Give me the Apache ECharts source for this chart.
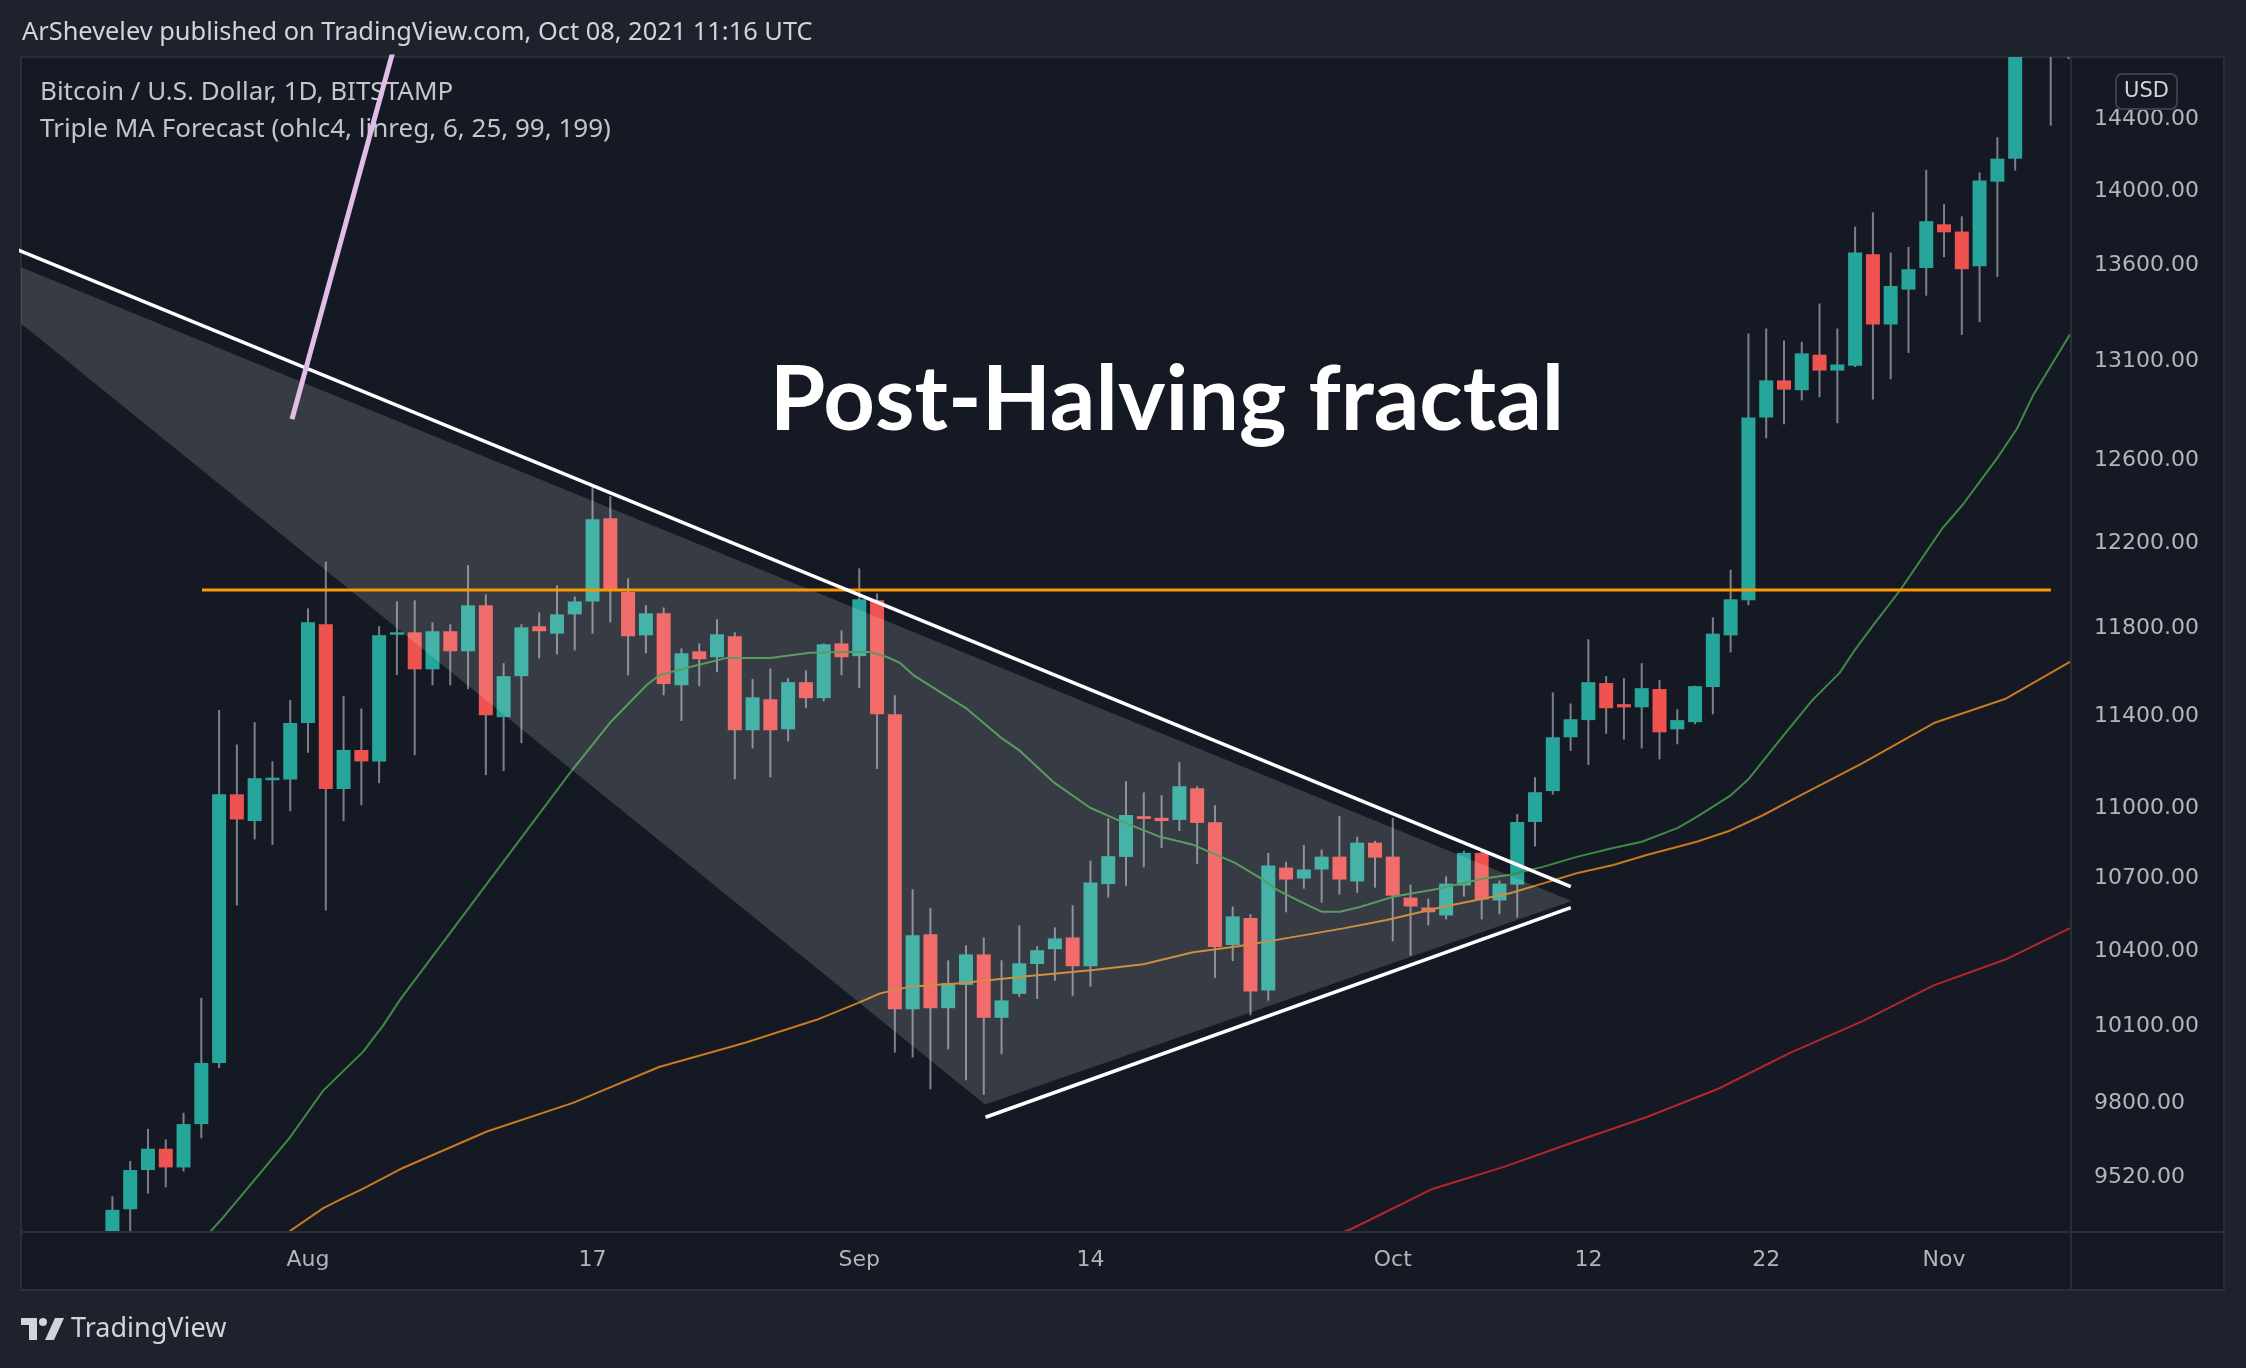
<!DOCTYPE html>
<html><head><meta charset="utf-8">
<script src="https://cdn.jsdelivr.net/npm/echarts@6/dist/echarts.min.js"></script>
<style>html,body{margin:0;padding:0;background:#1e222d}#c{width:2246px;height:1368px}</style>
</head><body><div id="c"></div>
<script>
// ---- daily candles (BTC/USD, BITSTAMP, 1D) ----
const dates = [
'2020-07-21','2020-07-22','2020-07-23','2020-07-24','2020-07-25','2020-07-26','2020-07-27','2020-07-28','2020-07-29','2020-07-30','2020-07-31',
'2020-08-01','2020-08-02','2020-08-03','2020-08-04','2020-08-05','2020-08-06','2020-08-07','2020-08-08','2020-08-09','2020-08-10',
'2020-08-11','2020-08-12','2020-08-13','2020-08-14','2020-08-15','2020-08-16','2020-08-17','2020-08-18','2020-08-19','2020-08-20',
'2020-08-21','2020-08-22','2020-08-23','2020-08-24','2020-08-25','2020-08-26','2020-08-27','2020-08-28','2020-08-29','2020-08-30','2020-08-31',
'2020-09-01','2020-09-02','2020-09-03','2020-09-04','2020-09-05','2020-09-06','2020-09-07','2020-09-08','2020-09-09','2020-09-10',
'2020-09-11','2020-09-12','2020-09-13','2020-09-14','2020-09-15','2020-09-16','2020-09-17','2020-09-18','2020-09-19','2020-09-20',
'2020-09-21','2020-09-22','2020-09-23','2020-09-24','2020-09-25','2020-09-26','2020-09-27','2020-09-28','2020-09-29','2020-09-30',
'2020-10-01','2020-10-02','2020-10-03','2020-10-04','2020-10-05','2020-10-06','2020-10-07','2020-10-08','2020-10-09','2020-10-10',
'2020-10-11','2020-10-12','2020-10-13','2020-10-14','2020-10-15','2020-10-16','2020-10-17','2020-10-18','2020-10-19','2020-10-20',
'2020-10-21','2020-10-22','2020-10-23','2020-10-24','2020-10-25','2020-10-26','2020-10-27','2020-10-28','2020-10-29','2020-10-30','2020-10-31',
'2020-11-01','2020-11-02','2020-11-03','2020-11-04','2020-11-05','2020-11-06','2020-11-07','2020-11-08'];
const open = [9170,9387,9532,9612,9542,9705,9940,11041,10926,11105,11105,
11353,11800,11064,11234,11184,11752,11763,11594,11768,11676,11888,11379,11563,11791,11757,11846,11906,12300,11950,11749,11851,11522,11676,11649,11745,11321,11459,11325,11536,11464,11712,
11654,11911,11392,10151,10453,10155,10248,10371,10117,10212,10332,10392,10440,10323,10660,10774,10947,10940,10931,11067,10921,10409,10520,10226,10729,10683,10721,10775,10671,10834,
10775,10604,10563,10530,10654,10791,10592,10658,10922,11055,11290,11366,11532,11437,11423,11505,11325,11357,11514,11749,11911,12794,12981,12931,13112,13031,13056,13637,13268,13450,13564,
13798,13759,13574,14030,14157,15590,15580,14830];
const close = [9385,9532,9612,9542,9705,9940,11041,10933,11111,11110,11353,
11809,11064,11234,11184,11749,11763,11594,11768,11676,11888,11388,11563,11786,11768,11846,11906,12295,11955,11745,11851,11528,11667,11640,11754,11321,11468,11321,11536,11464,11708,11649,
11916,11392,10151,10449,10155,10255,10371,10117,10186,10335,10388,10436,10323,10667,10777,10952,10935,10926,11076,10918,10401,10526,10222,10738,10679,10721,10775,10679,10834,10771,
10612,10567,10543,10662,10791,10596,10662,10922,11050,11290,11370,11536,11419,11423,11509,11312,11366,11518,11757,11916,12794,12981,12934,13119,13031,13062,13647,13268,13469,13558,13815,
13755,13558,14036,14157,15590,15580,14830,15480];
const high = [9435,9566,9687,9647,9748,10196,11411,11258,11357,11184,11455,
11874,12092,11474,11418,11791,11906,11911,11809,11800,12076,11939,11622,11800,11855,11981,11929,12450,12406,12014,11888,11878,11689,11712,11823,11763,11550,11598,11554,11589,11712,11772,
12061,11943,11477,10639,10560,10347,10408,10440,10347,10489,10404,10481,10572,10758,10938,11097,11049,11037,11181,11076,10994,10567,10535,10791,10754,10825,10805,10948,10859,10842,
10939,10658,10600,10692,10800,10800,10675,10956,11115,11490,11440,11731,11563,11554,11622,11545,11414,11520,11832,12055,13221,13247,13185,13179,13377,13247,13786,13863,13647,13676,14095,
13907,13841,14081,14276,15750,15960,15770,15650];
const low = [9140,9290,9445,9468,9527,9651,9920,10571,10848,10825,10968,
11222,10550,10926,10994,11089,11568,11211,11522,11522,11504,11124,11142,11264,11644,11662,11680,11757,11809,11567,11667,11477,11362,11518,11581,11106,11241,11115,11272,11419,11450,11567,
11509,11151,9981,9961,9838,9993,9873,9817,9974,10200,10192,10265,10204,10241,10604,10653,10730,10812,10884,10745,10276,10344,10127,10185,10543,10641,10583,10616,10624,10645,
10424,10366,10489,10514,10608,10514,10535,10522,10818,11040,11230,11168,11306,11280,11241,11193,11259,11348,11392,11671,11888,12690,12760,12880,12896,12765,13049,12884,12987,13121,13418,
13622,13214,13280,13517,14091,15190,14341,14720];

// ---- axis ticks ----
const xTickDates = ['2020-08-01','2020-08-17','2020-09-01','2020-09-14','2020-10-01','2020-10-12','2020-10-22','2020-11-01'];
const xTickLabels = ['Aug','17','Sep','14','Oct','12','22','Nov'];
const yTicks = [9520,9800,10100,10400,10700,11000,11400,11800,12200,12600,13100,13600,14000,14400];

// ---- Triple MA Forecast lines (x = day offset from first candle) ----
const maGreenX = [5.0,6.05,7.57,10.0,11.84,14.09,15.21,16.17,24.16,25.73,27.98,30.06,30.79,32.48,34.56,36.98,39.23,41.08,42.6,43.56,44.29,45.02,46.71,48.06,49.91,51.04,52.9,54.98,56.5,58.92,60.77,63.13,64.54,65.49,66.95,68.02,69.03,70.15,72.01,74.48,77.07,78.59,80.44,82.35,84.21,86.01,88.03,89.1,90.96,91.97,93.77,95.62,97.14,97.99,99.0,100.52,102.94,104.06,105.97,107.1,108.0,110.08];
const maGreenY = [9270,9344,9462,9656,9832,9983,10085,10188,10973,11134,11354,11524,11569,11605,11646,11646,11669,11673,11673,11650,11623,11569,11483,11416,11292,11230,11095,10983,10932,10859,10825,10749,10686,10636,10582,10545,10545,10565,10607,10640,10682,10699,10732,10774,10808,10838,10897,10944,11034,11104,11279,11457,11579,11683,11794,11957,12255,12366,12590,12738,12904,13216];
const maOrangeX = [9.5,10.08,11.86,12.98,14.11,16.17,21.06,25.9,30.74,35.58,39.6,42.04,43.17,44.85,47.66,51.41,55.16,57.97,60.78,63.41,65.47,69.22,71.66,74.84,78.59,80.46,82.34,84.4,86.28,89.09,90.96,92.84,94.71,97.15,98.39,102.43,106.43,110.08];
const maOrangeY = [9281,9312,9391,9428,9463,9535,9677,9786,9924,10019,10109,10179,10214,10241,10255,10283,10308,10331,10380,10405,10430,10477,10511,10566,10622,10663,10705,10740,10782,10838,10885,10952,11028,11125,11175,11353,11460,11628];
const maRedX = [68.58,69.64,74.23,78.25,82.28,86.29,90.34,94.37,98.39,102.42,106.45,110.08];
const maRedY = [9290,9314,9462,9544,9639,9732,9841,9980,10103,10246,10350,10478];

// ---- drawings (x = day offset, y = price) ----
const triangleX = [-13.03, 49.07, 82.06];
const triangleY = [13876, 9780, 10590];
const upperTrendX = [-6, 82.01];
const upperTrendY = [13687, 10649];
const lowerTrendX = [49.1, 82.01];
const lowerTrendY = [9731, 10562];
const levelX = [5.04, 109.01];
const levelY = [11959, 11959];
const pinkX = [10.1, 16.57];
const pinkY = [12786, 15063];

const pairs = (xs, ys) => xs.map((x, i) => [x, ys[i]]);
const tickIdx = xTickDates.map(d => dates.indexOf(d));
const tickMap = {};
tickIdx.forEach((v, i) => { tickMap[v] = xTickLabels[i]; });

const UP = '#26a69a', DOWN = '#ef5350', WICK = '#7d808b';
const PANEL = '#151924', BORDER = '#2a2e39';

const chart = echarts.init(document.getElementById('c'), null, {renderer: 'canvas', width: 2246, height: 1368});

const option = {
  backgroundColor: '#1e222d',
  animation: false,
  grid: {left: 21, right: 175, top: 57, bottom: 136, containLabel: false},
  xAxis: {
    type: 'value', min: -5.14, max: 110.14,
    axisLine: {show: false}, axisTick: {show: false}, splitLine: {show: false},
    axisLabel: {customValues: tickIdx, formatter: v => tickMap[Math.round(v)] || '',
      color: '#b2b5be', fontSize: 22, fontFamily: 'DejaVu Sans', margin: 17}
  },
  yAxis: {
    type: 'log', logBase: 10, min: 9304, max: 14731, position: 'right',
    axisLine: {show: false}, axisTick: {show: false}, splitLine: {show: false},
    axisLabel: {customValues: yTicks, formatter: v => Number(v).toFixed(2),
      color: '#b2b5be', fontSize: 22, fontFamily: 'DejaVu Sans', margin: 23, align: 'left',
      verticalAlign: 'top', lineHeight: 8}
  },
  graphic: [
    {type: 'rect', z: -10, shape: {x: 21, y: 57, width: 2203, height: 1233}, style: {fill: PANEL, stroke: BORDER, lineWidth: 2}},
    {type: 'line', z: 20, shape: {x1: 2071, y1: 57, x2: 2071, y2: 1290}, style: {stroke: BORDER, lineWidth: 2}},
    {type: 'line', z: 20, shape: {x1: 21, y1: 1232, x2: 2224, y2: 1232}, style: {stroke: BORDER, lineWidth: 2}},
    {type: 'text', z: 1, x: 22, y: 33, style: {text: 'ArShevelev published on TradingView.com, Oct 08, 2021 11:16 UTC', fill: '#d1d4dc', font: '25.4px "Noto Sans"', verticalAlign: 'middle', align: 'left'}},
    {type: 'text', z: 1, x: 40, y: 93, style: {text: 'Bitcoin / U.S. Dollar, 1D, BITSTAMP', fill: '#c3c5cc', font: '26px "Noto Sans"', verticalAlign: 'middle', align: 'left'}},
    {type: 'text', z: 1, x: 40, y: 130, style: {text: 'Triple MA Forecast (ohlc4, linreg, 6, 25, 99, 199)', fill: '#c3c5cc', font: '26px "Noto Sans"', verticalAlign: 'middle', align: 'left'}},
    {type: 'text', z: 30, x: 1167, y: 401, style: {text: 'Post-Halving fractal', fill: '#ffffff', font: 'bold 90px Lato', verticalAlign: 'middle', align: 'center'}},
    {type: 'rect', z: 40, shape: {x: 2116, y: 74, width: 61, height: 35, r: 6}, style: {fill: PANEL, stroke: '#3b3f4b', lineWidth: 2}},
    {type: 'text', z: 41, x: 2146.5, y: 92, style: {text: 'USD', fill: '#d1d4dc', font: '21px "DejaVu Sans"', verticalAlign: 'middle', align: 'center'}},
    // TradingView logo
    {type: 'polygon', z: 1, shape: {points: [[21,1318],[37,1318],[37,1340],[29,1340],[29,1325],[21,1325]]}, style: {fill: '#d1d4dc'}},
    {type: 'circle', z: 1, shape: {cx: 43, cy: 1322, r: 4}, style: {fill: '#d1d4dc'}},
    {type: 'polygon', z: 1, shape: {points: [[55,1318],[64,1318],[54,1340],[45,1340]]}, style: {fill: '#d1d4dc'}},
    {type: 'text', z: 1, x: 71, y: 1329, style: {text: 'TradingView', fill: '#d1d4dc', font: '27px "Noto Sans"', verticalAlign: 'middle', align: 'left'}}
  ],
  series: [
    {
      type: 'custom', name: 'candles', z: 2, clip: true,
      encode: {x: 0, y: [1, 2, 3, 4]},
      data: dates.map((d, i) => [i, open[i], close[i], low[i], high[i]]),
      renderItem: function (params, api) {
        const i = api.value(0), o = api.value(1), c = api.value(2), l = api.value(3), h = api.value(4);
        const pO = api.coord([i, o]), pC = api.coord([i, c]);
        const pH = api.coord([i, h]), pL = api.coord([i, l]);
        let top = Math.min(pO[1], pC[1]);
        let hgt = Math.abs(pO[1] - pC[1]);
        if (hgt < 2.5) { top = (pO[1] + pC[1]) / 2 - 1.25; hgt = 2.5; }
        const w = 14;
        return {type: 'group', children: [
          {type: 'line', shape: {x1: pH[0], y1: pH[1], x2: pL[0], y2: pL[1]}, style: {stroke: WICK, lineWidth: 2}},
          {type: 'rect', shape: {x: pO[0] - w / 2, y: top, width: w, height: hgt}, style: {fill: c >= o ? UP : DOWN}}
        ]};
      }
    },
    {type: 'line', z: 3, data: pairs(maRedX, maRedY), showSymbol: false, lineStyle: {color: '#b3262e', width: 2}, silent: true},
    {type: 'line', z: 3, data: pairs(maOrangeX, maOrangeY), showSymbol: false, lineStyle: {color: '#c77a1f', width: 2}, silent: true},
    {type: 'line', z: 3, data: pairs(maGreenX, maGreenY), showSymbol: false, lineStyle: {color: '#3e8b43', width: 2}, silent: true},
    {
      type: 'custom', z: 4, clip: true, silent: true,
      data: pairs(triangleX, triangleY),
      renderItem: function (params, api) {
        if (params.dataIndex !== 0) return null;
        const pts = triangleX.map((x, k) => api.coord([x, triangleY[k]]));
        return {type: 'polygon', shape: {points: pts}, style: {fill: 'rgba(255,255,255,0.15)'}};
      }
    },
    {type: 'line', z: 5, data: pairs(levelX, levelY), showSymbol: false, lineStyle: {color: '#ff9800', width: 3}, silent: true},
    {type: 'line', z: 6, data: pairs(upperTrendX, upperTrendY), showSymbol: false, lineStyle: {color: '#ffffff', width: 3.5}, silent: true},
    {type: 'line', z: 6, data: pairs(lowerTrendX, lowerTrendY), showSymbol: false, lineStyle: {color: '#ffffff', width: 3.5}, silent: true},
    {type: 'line', z: 7, data: pairs(pinkX, pinkY), showSymbol: false, lineStyle: {color: '#e1bee7', width: 5}, silent: true}
  ]
};
chart.setOption(option);
</script></body></html>
